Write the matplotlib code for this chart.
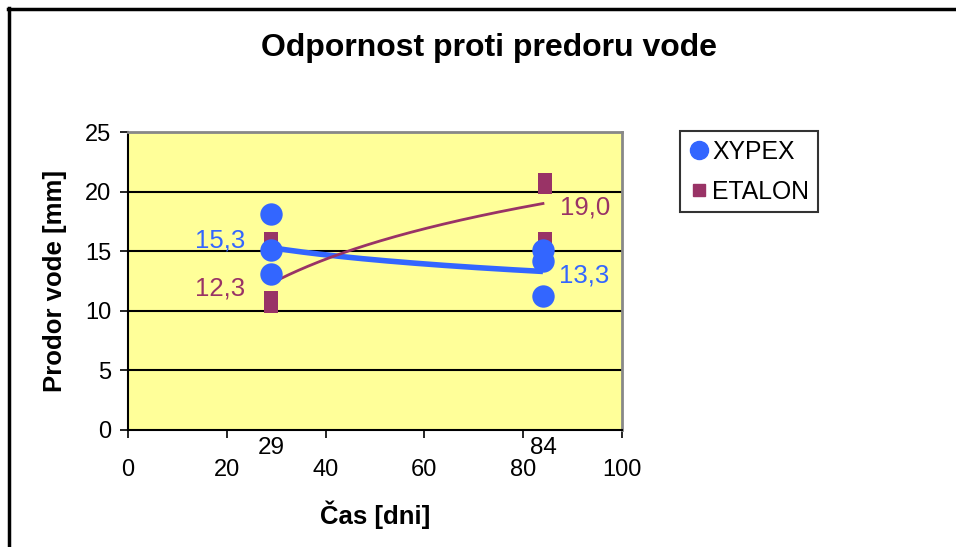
import numpy as np
import matplotlib
matplotlib.use("Agg")
import matplotlib.pyplot as plt
from matplotlib.lines import Line2D

plt.rcParams['font.family'] = ['Liberation Sans', 'DejaVu Sans']

# Data
xypex_x = [29, 29, 29, 84, 84, 84]
xypex_y = [18.1, 15.1, 13.1, 15.1, 14.2, 11.2]
etalon_x = [29, 29, 29, 84.4, 84.4, 84.4]
etalon_y = [16.0, 11.1, 10.4, 21.0, 20.4, 16.0]
trend_days = [29, 84]
trend_xypex = [15.3, 13.3]
trend_etalon = [12.3, 19.0]
day_labels = ["29", "84"]
series_names = ["XYPEX", "ETALON"]

blue = '#3366FF'
wine = '#993366'

fig = plt.figure(figsize=(9.56, 5.47), dpi=100)
ax = fig.add_axes([128/956, 1-430/547, (622-128)/956, (430-132)/547])
ax.set_facecolor('#FFFF99')
ax.set_xlim(0, 100)
ax.set_ylim(0, 25)
ax.set_xticks([0, 20, 40, 60, 80, 100])
ax.set_yticks([0, 5, 10, 15, 20, 25])
ax.tick_params(axis='both', labelsize=17, direction='out', length=6, width=1.2, color='black')
ax.tick_params(axis='x', pad=15)
ax.tick_params(axis='y', pad=6)
for y in [5, 10, 15, 20, 25]:
    ax.axhline(y, color='black', lw=1.5, zorder=1)
for s in ['top', 'right']:
    ax.spines[s].set_color('#888888')
    ax.spines[s].set_linewidth(2)
for s in ['left', 'bottom']:
    ax.spines[s].set_color('black')
    ax.spines[s].set_linewidth(1.5)

# logarithmic trend lines through labeled endpoints
def log_trend(vals):
    lx = np.log(trend_days)
    b = (vals[1] - vals[0]) / (lx[1] - lx[0])
    a = vals[0] - b * lx[0]
    xs = np.linspace(trend_days[0], trend_days[1], 200)
    return xs, a + b * np.log(xs)

xs, ys = log_trend(trend_xypex)
ax.plot(xs, ys, color=blue, lw=4, zorder=3, solid_capstyle='butt')
xs, ys = log_trend(trend_etalon)
ax.plot(xs, ys, color=wine, lw=2, zorder=3)

ax.scatter(etalon_x, etalon_y, marker='s', s=110, color=wine, zorder=4, linewidths=0)
ax.scatter(xypex_x, xypex_y, marker='o', s=260, color=blue, zorder=5, linewidths=0)

# value labels
lab_fs = 18.5
ax.text(23.8, trend_xypex[0] + 0.6, "15,3", color=blue, fontsize=lab_fs, ha='right', va='center')
ax.text(23.8, trend_etalon[0] - 0.4, "12,3", color=wine, fontsize=lab_fs, ha='right', va='center')
ax.text(87.5, trend_etalon[1] - 0.3, "19,0", color=wine, fontsize=lab_fs, ha='left', va='center')
ax.text(87.3, trend_xypex[1] - 0.3, "13,3", color=blue, fontsize=lab_fs, ha='left', va='center')

# day labels under axis
trans = ax.get_xaxis_transform()
for d, lab in zip(trend_days, day_labels):
    ax.text(d, -0.062, lab, transform=trans, fontsize=17.5, ha='center', va='center')

ax.set_xlabel("Čas [dni]", fontsize=18.5, fontweight='bold', labelpad=14)
ax.set_ylabel("Prodor vode [mm]", fontsize=18.5, fontweight='bold', labelpad=13)

fig.text(489/956, 1-48/547, "Odpornost proti predoru vode", fontsize=23, fontweight='bold',
         ha='center', va='center')

# legend
handles = [Line2D([], [], marker='o', color=blue, ls='none', markersize=13),
           Line2D([], [], marker='s', color=wine, ls='none', markersize=8)]
leg = fig.legend(handles, series_names, loc='upper left',
                 bbox_to_anchor=(680/956, 1-131/547), fontsize=17.8, frameon=True,
                 fancybox=False, edgecolor='black', handletextpad=0.15, handlelength=0.8,
                 borderpad=0.35, labelspacing=0.65, borderaxespad=0)
leg.get_frame().set_linewidth(1.5)

# outer border
fig.add_artist(Line2D([8/956, 1], [1-8.5/547, 1-8.5/547], color='black', lw=2.5, transform=fig.transFigure))
fig.add_artist(Line2D([8.5/956, 8.5/956], [0, 1-8/547], color='black', lw=2.5, transform=fig.transFigure))

fig.savefig("out.png", dpi=100)
